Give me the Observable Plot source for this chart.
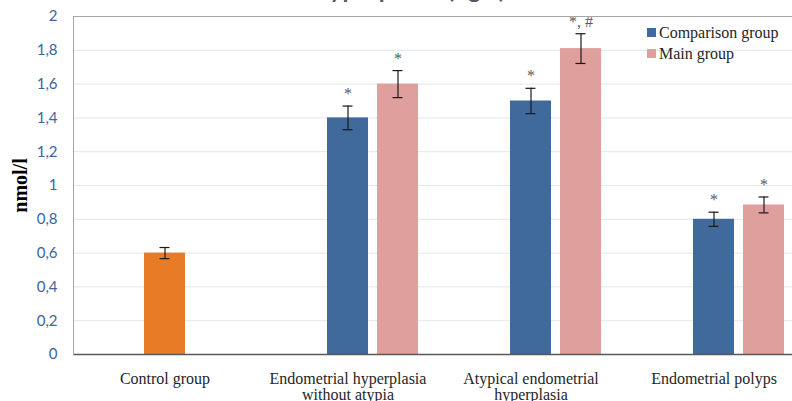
<!DOCTYPE html>
<html>
<head>
<meta charset="utf-8">
<script src="https://cdn.jsdelivr.net/npm/d3@7"></script>
<script src="https://cdn.jsdelivr.net/npm/@observablehq/plot@0.6"></script>
<style>
  html, body { margin: 0; padding: 0; background: #fff; overflow: hidden; }
  #wrap { position: relative; width: 792px; height: 401px; overflow: hidden; }
  #chart svg { max-width: none !important; width: 806px; height: 401px; }
  #title { position: absolute; left: 178px; top: -26px; font: bold 24px Lato, sans-serif; color: #595959; white-space: nowrap; letter-spacing: 0.3px; }
  #legend { position: absolute; left: 647px; top: 22px; font: 16px "Liberation Serif", serif; color: #262626; }
  #legend .row { display: flex; align-items: center; height: 21px; }
  #legend .sw { width: 9px; height: 9px; margin-right: 3px; }
  svg [aria-label="y-axis tick label"] text { font: 15px Lato, sans-serif; fill: #41649a; }
  svg [aria-label="y-axis label"] text { font: bold 20px "Liberation Serif", serif; fill: #000; }
  svg [aria-label="fx-axis tick label"] text { font: 16px "Liberation Serif", serif; fill: #262626; }
</style>
</head>
<body>
<div id="wrap">
  <div id="chart"></div>
  <div id="title">endometrial hyperplasia (ng/l)</div>
  <div id="legend"></div>
</div>
<script>
// ---- data ----
const categories = ["Control group", "Endometrial hyperplasia without atypia", "Atypical endometrial hyperplasia", "Endometrial polyps"];
const categoryLabels = ["Control group", "Endometrial hyperplasia\nwithout atypia", "Atypical endometrial\nhyperplasia", "Endometrial polyps"];
const seriesNames = ["Comparison group", "Main group"];
const controlValue = 0.60;
const controlErr = 0.033;
const comparisonValues = [null, 1.40, 1.50, 0.80];
const comparisonErr = [null, 0.07, 0.075, 0.042];
const comparisonMarks = [null, "*", "*", "*"];
const mainValues = [null, 1.60, 1.81, 0.885];
const mainErr = [null, 0.08, 0.088, 0.047];
const mainMarks = [null, "*", "*, #", "*"];
const yTicks = [0, 0.2, 0.4, 0.6, 0.8, 1, 1.2, 1.4, 1.6, 1.8, 2];

const colors = {"Comparison group": "#40699c", "Main group": "#df9f9c", control: "#e87b26"};

// ---- rows ----
const rows = [{category: categories[0], series: seriesNames[0], value: controlValue, err: controlErr, label: null, control: true}];
categories.forEach((c, i) => {
  if (comparisonValues[i] != null) rows.push({category: c, series: seriesNames[0], value: comparisonValues[i], err: comparisonErr[i], label: comparisonMarks[i]});
  if (mainValues[i] != null) rows.push({category: c, series: seriesNames[1], value: mainValues[i], err: mainErr[i], label: mainMarks[i]});
});
const fillOf = d => d.control ? colors.control : colors[d.series];
const labelOf = new Map(categories.map((c, i) => [c, categoryLabels[i]]));

const chart = Plot.plot({
  width: 806,
  height: 401,
  marginTop: 16,
  marginBottom: 47,
  marginLeft: 73,
  marginRight: 1,
  style: {background: "#fff", maxWidth: "none"},
  fx: {domain: categories, paddingInner: 0, paddingOuter: 0, axis: "bottom", label: null,
       tickSize: 0, tickPadding: 18, tickFormat: c => labelOf.get(c)},
  x: {domain: ["empty", ...seriesNames], paddingInner: 0.18, paddingOuter: 0.42, axis: null},
  y: {domain: [0, 2], ticks: yTicks, tickSize: 0, tickPadding: 16,
      tickFormat: d => String(+d.toFixed(1)).replace(".", ","),
      label: "nmol/l", labelAnchor: "center", labelArrow: "none", labelOffset: 61},
  marks: [
    Plot.gridY(yTicks.filter(t => t > 0 && t < 2), {stroke: "#dfe7f1", strokeOpacity: 1, strokeWidth: 1}),
    Plot.barY(rows, {fx: "category", x: "series", y: "value", fill: fillOf}),
    Plot.ruleX(rows, {fx: "category", x: "series", y1: d => d.value - d.err, y2: d => d.value + d.err, stroke: "#1a1a1a", strokeWidth: 1.2}),
    Plot.tickY(rows, {fx: "category", x: "series", y: d => d.value + d.err, stroke: "#1a1a1a", strokeWidth: 1.2, insetLeft: 15.5, insetRight: 15.5}),
    Plot.tickY(rows, {fx: "category", x: "series", y: d => d.value - d.err, stroke: "#1a1a1a", strokeWidth: 1.2, insetLeft: 15.5, insetRight: 15.5}),
    Plot.text(rows.filter(d => d.label), {fx: "category", x: "series", y: d => d.value + d.err, text: "label", dy: -12,
      fill: "#595959", fontSize: 16, fontFamily: "Liberation Serif, serif"}),
    Plot.ruleY([2], {stroke: "#a6a6a6", strokeWidth: 1}),
    Plot.ruleY([0], {stroke: "#595959", strokeWidth: 1.3}),
    Plot.frame({anchor: "left", facet: "super", stroke: "#a6a6a6"})
  ]
});
document.getElementById("chart").appendChild(chart);

// legend
const legend = document.getElementById("legend");
seriesNames.forEach(s => {
  const row = document.createElement("div");
  row.className = "row";
  const sw = document.createElement("span");
  sw.className = "sw";
  sw.style.background = colors[s];
  const t = document.createElement("span");
  t.textContent = s;
  row.appendChild(sw); row.appendChild(t);
  legend.appendChild(row);
});
</script>
</body>
</html>
